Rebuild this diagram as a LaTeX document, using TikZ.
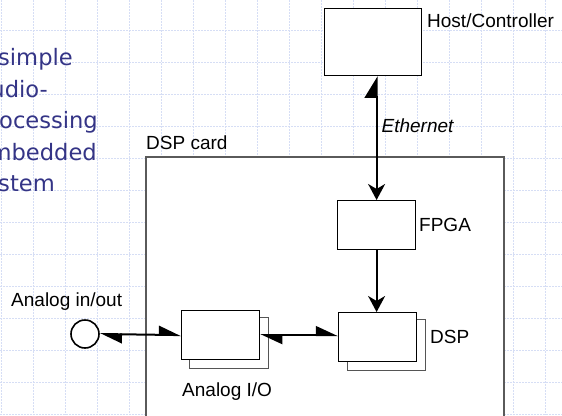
\documentclass[tikz,border=0pt]{standalone}
\usepackage{fontspec}
\setmainfont{Liberation Sans}
\newfontfamily\slidefont{DejaVu Sans}
\usetikzlibrary{arrows.meta}
\definecolor{gridblue}{RGB}{214,222,245}
\definecolor{slideblue}{RGB}{52,52,134}
\definecolor{cardgray}{RGB}{90,90,90}
\definecolor{backgray}{RGB}{85,85,85}
\tikzset{
  gridline/.style={draw=gridblue, line width=0.8pt, dash pattern=on 2pt off 1pt},
  block/.style={rectangle, draw=black, fill=white, line width=1.2pt, inner sep=0pt,
    anchor=north west, minimum width=78pt, minimum height=49pt},
  backblock/.style={block, draw=backgray, minimum height=51pt},
  lbl/.style={inner sep=0pt, anchor=west, font=\fontsize{19}{22}\selectfont},
  slidetext/.style={inner sep=0pt, anchor=base east, text=slideblue,
    font=\slidefont\fontsize{22.6}{26}\selectfont},
  link/.style={line width=2pt, draw=black},
  harp/.tip={Triangle[harpoon, length=20pt, width=18pt]},
  bigharp/.tip={Triangle[harpoon, length=20pt, width=24pt]},
  head/.tip={Stealth[length=16pt, width=17pt, inset=5pt]}
}
\begin{document}
\begin{tikzpicture}[x=1pt, y=-1pt]
\useasboundingbox (0,0) rectangle (562,415);
\clip (0,0) rectangle (562,415);

% background grid
\foreach \gx in {1,33,...,545} \draw[gridline] (\gx,0) -- (\gx,415);
\foreach \gy in {30,62,...,414} \draw[gridline] (0,\gy) -- (562,\gy);

% slide title text, running off the left edge
\node[slidetext] (t1) at (73,65) {A simple};
\node[slidetext] (t2) at (48,97) {audio-};
\node[slidetext] (t3) at (98,128) {processing};
\node[slidetext] (t4) at (97,160) {embedded};
\node[slidetext] (t5) at (55,191) {system};

% DSP card outline
\node[rectangle, draw=cardgray, fill=white, line width=2pt, inner sep=0pt,
  anchor=north west, minimum width=358pt, minimum height=270pt] (card) at (145,156) {};
\node[lbl] (cardlbl) at (146,143) {DSP card};

% host
\node[block, minimum width=97pt, minimum height=67pt] (host) at (324,8) {};
\node[lbl] (hostlbl) at (427,21) {Host/Controller};

% FPGA
\node[block] (fpga) at (337,200) {};
\node[lbl] (fpgalbl) at (419,225) {FPGA};

% DSP (stacked)
\node[backblock] (dspback) at (347,319) {};
\node[block] (dsp) at (338,312) {};
\node[lbl] (dsplbl) at (430,337) {DSP};

% Analog I/O (stacked)
\node[backblock, minimum width=79pt] (aioback) at (189,317) {};
\node[block] (aio) at (181,310) {};
\node[lbl] (aiolbl) at (182,392) {Analog I/O};

% analog jack
\node[circle, draw=black, fill=white, line width=1.6pt, minimum size=28pt, inner sep=0pt] (jack) at (85,334) {};
\node[lbl] (jacklbl) at (11,302) {Analog in/out};

% connectors
\draw[link, {bigharp}-{head}] (fpga.north |- host.south) -- (fpga.north)
  node[pos=0.4, right=4pt, inner sep=0pt, font=\fontsize{19}{22}\selectfont\itshape] (eth) {Ethernet};
\draw[link, -{head}] (fpga.south) -- (fpga.south |- dsp.north);
\draw[link, {harp}-{harp}] (jack.east) -- (aio.west);
\draw[link, {harp}-{harp}] (aio.east) -- (aio.east -| dsp.west);
\end{tikzpicture}
\end{document}
